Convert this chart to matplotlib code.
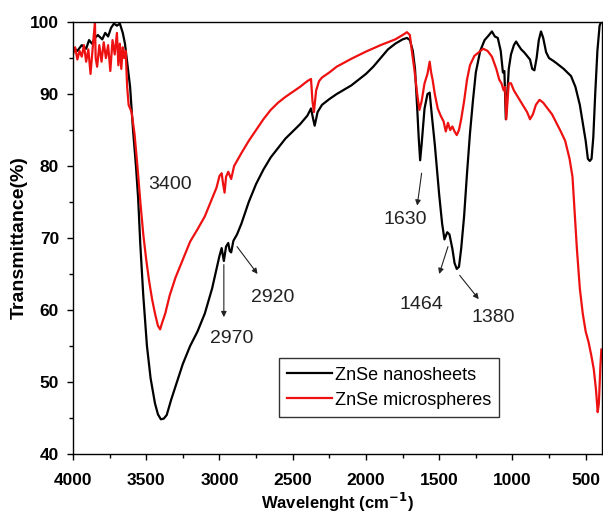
import matplotlib
matplotlib.use("Agg")
import matplotlib.pyplot as plt
from matplotlib.ticker import MultipleLocator

# ---------------- data ----------------
nano_x = [4000, 3970, 3940, 3910, 3890, 3870, 3850, 3830, 3800, 3780, 3760, 3740, 3720, 3700,
          3680, 3660, 3645, 3625, 3610, 3590, 3570, 3555, 3540, 3520, 3495, 3470, 3440, 3420,
          3400, 3380, 3360, 3330, 3290, 3250, 3200, 3150, 3100, 3050, 3000, 2985, 2970, 2955,
          2940, 2930, 2920, 2905, 2880, 2850, 2800, 2750, 2700, 2650, 2600, 2550, 2500, 2450,
          2400, 2375, 2360, 2350, 2330, 2300, 2250, 2200, 2150, 2100, 2050, 2000, 1950, 1900,
          1850, 1800, 1750, 1720, 1700, 1680, 1665, 1650, 1640, 1630, 1620, 1600, 1580, 1565,
          1550, 1530, 1500, 1480, 1464, 1445, 1430, 1410, 1395, 1380, 1365, 1350, 1330, 1310,
          1290, 1270, 1250, 1220, 1190, 1160, 1140, 1120, 1100, 1080, 1065, 1055, 1045, 1035,
          1025, 1010, 990, 975, 960, 940, 920, 900, 880, 865, 850, 835, 820, 805, 790, 770,
          750, 720, 700, 650, 600, 570, 540, 520, 500, 485, 472, 460, 448, 435, 420, 405, 395]
nano_y = [96.5, 96.0, 96.8, 96.3, 97.5, 97.0, 97.8, 98.2, 97.6, 98.5, 98.0, 99.2, 99.8, 99.5,
          99.8, 98.5, 97.0, 93.5, 91.0, 85.0, 80.0, 75.5, 69.0, 62.0, 55.0, 50.5, 47.0, 45.5,
          44.8, 44.9, 45.4, 47.5, 50.0, 52.5, 55.0, 57.0, 59.5, 63.0, 67.5, 68.6, 66.8, 68.8,
          69.3, 68.2, 68.0, 69.6, 70.5, 72.0, 75.0, 77.5, 79.5, 81.2, 82.5, 83.8, 84.8, 85.8,
          87.0, 88.0, 86.5, 85.6, 87.5, 88.5, 89.3, 90.0, 90.6, 91.2, 92.0, 92.8, 93.8, 95.0,
          96.2, 97.0, 97.6, 97.8, 97.5, 96.0, 93.5, 88.0, 84.0, 80.8, 83.0, 88.0, 90.0, 90.2,
          87.0, 83.0, 76.0, 72.0, 69.8, 70.8, 70.5, 68.5, 66.5, 65.7, 66.0, 68.5, 73.0, 79.0,
          84.5, 89.0, 93.0, 96.0, 97.5, 98.2, 98.7, 98.0, 97.8, 96.0, 93.0, 93.2, 86.5, 90.0,
          93.5, 95.5, 96.8, 97.3, 96.8, 96.2, 95.8, 95.3, 94.8, 93.5, 93.3, 95.0, 97.5, 98.7,
          97.8, 95.8, 95.0, 94.6, 94.3, 93.5, 92.5, 91.0, 88.5, 86.0, 83.5, 81.0, 80.7, 81.0,
          84.0, 90.0, 96.0, 99.5, 100.0]

micro_x = [4000, 3985, 3970, 3955, 3940, 3925, 3910, 3895, 3880, 3865, 3850, 3845, 3835, 3820,
           3805, 3790, 3775, 3760, 3745, 3730, 3715, 3700, 3690, 3680, 3670, 3660, 3650, 3640,
           3630, 3620, 3600, 3580, 3560, 3540, 3520, 3500, 3480, 3460, 3440, 3420, 3405, 3390,
           3370, 3340, 3300, 3250, 3200, 3150, 3100, 3050, 3020, 3000, 2985, 2975, 2965, 2955,
           2940, 2920, 2900, 2850, 2800, 2750, 2700, 2650, 2600, 2550, 2500, 2450, 2400, 2375,
           2365, 2355, 2340, 2320, 2300, 2250, 2200, 2100, 2000, 1900, 1800, 1750, 1720, 1700,
           1690, 1670, 1650, 1635, 1620, 1600, 1580, 1565, 1555, 1545, 1530, 1510, 1490, 1470,
           1455, 1440, 1425, 1410, 1395, 1380, 1365, 1350, 1330, 1310, 1290, 1260, 1230, 1200,
           1170, 1140, 1110, 1090, 1075, 1060, 1050, 1042, 1035, 1025, 1010, 990, 960, 930,
           900, 880, 860, 840, 815, 790, 760, 730, 700, 670, 640, 610, 590, 575, 560, 540,
           520, 500, 480, 460, 445, 430, 418, 410, 400, 393]
micro_y = [95.5, 96.5, 94.8, 96.0, 95.2, 96.8, 94.5, 96.2, 92.8, 96.5, 100.0, 95.0, 93.8, 96.8,
           94.5, 97.2, 95.0, 96.8, 93.2, 97.5, 95.5, 98.5, 94.0, 97.0, 93.5, 96.5, 95.0, 96.0,
           91.0, 88.5, 87.5, 84.5, 80.0, 75.0, 70.5, 67.0, 64.0, 61.5, 59.5, 57.8, 57.3, 58.3,
           59.5, 62.0, 64.5, 67.0, 69.5, 71.2, 73.0, 75.5, 77.0, 78.6, 79.0, 77.5, 76.3, 78.5,
           79.2, 78.2, 80.0, 81.8, 83.5, 85.0, 86.5, 87.8, 88.8, 89.6, 90.3, 91.0, 91.8, 92.1,
           89.0, 87.5, 90.5, 91.8, 92.3, 93.0, 93.8, 94.9, 95.9, 96.8, 97.6, 98.2, 98.6, 98.2,
           96.5, 93.5, 90.0, 87.8, 89.0, 91.5, 92.8, 94.5, 93.0, 92.0, 90.0, 88.0, 87.0, 86.2,
           84.8, 86.0, 85.0, 85.5, 84.8, 84.3, 85.0, 86.5, 89.0, 92.0, 94.0, 95.3, 95.8, 96.3,
           96.0, 95.2, 93.5, 92.0, 91.5, 90.5, 91.0, 86.5, 88.5, 91.5, 91.5, 90.5, 89.5, 88.5,
           87.5, 86.5, 87.2, 88.5, 89.2, 88.8, 88.0, 87.2, 86.0, 84.8, 83.5, 81.0, 78.5, 73.5,
           68.5, 63.0, 59.5, 57.0, 55.5, 53.5, 51.8, 49.0, 45.8, 47.0, 52.0, 54.5]

series_labels = ["ZnSe nanosheets", "ZnSe microspheres"]
x_ticks = [4000, 3500, 3000, 2500, 2000, 1500, 1000, 500]
y_ticks = [40, 50, 60, 70, 80, 90, 100]

# annotations: (label, arrow start (curve), arrow end, text position)
annotations = [
    ("2970", (2970, 66.3), (2970, 59.0), (2915, 56.0)),
    ("2920", (2880, 68.8), (2740, 65.0), (2640, 61.7)),
    ("1630", (1620, 79.0), (1650, 74.5), (1735, 72.5)),
    ("1464", (1440, 68.8), (1500, 65.0), (1620, 60.7)),
    ("1380", (1360, 64.8), (1230, 61.5), (1128, 58.9)),
]

# ---------------- figure ----------------
fig = plt.figure(figsize=(6.03, 5.14), dpi=100)
ax = fig.add_axes([0.121, 0.117, 0.877, 0.84])

ax.plot(nano_x, nano_y, color="black", lw=1.6, label=series_labels[0])
ax.plot(micro_x, micro_y, color="#ee1111", lw=1.6, label=series_labels[1])

ax.set_xlim(4000, 390)
ax.set_ylim(40, 100)
ax.set_xticks(x_ticks)
ax.set_yticks(y_ticks)
ax.xaxis.set_minor_locator(MultipleLocator(250))
ax.yaxis.set_minor_locator(MultipleLocator(5))
ax.tick_params(which="both", direction="out", top=False, right=False)
ax.tick_params(which="major", length=4.5, width=1)
ax.tick_params(which="minor", length=3, width=1)
ax.tick_params(axis="x", which="major", pad=9)
ax.tick_params(axis="y", which="major", pad=5.5)
for lab in ax.get_xticklabels() + ax.get_yticklabels():
    lab.set_fontfamily("Liberation Sans")
    lab.set_fontweight("bold")
    lab.set_fontsize(12.5)
for s in ax.spines.values():
    s.set_linewidth(1.0)

ax.set_xlabel("Wavelenght (cm$^{\\mathbf{-1}}$)", family="Liberation Sans",
              fontweight="bold", fontsize=12, labelpad=2.5)
ax.set_ylabel("Transmittance(%)", family="Liberation Sans",
              fontweight="bold", fontsize=14, labelpad=2)

ax.text(3338, 77.4, "3400", ha="center", va="center", fontsize=14,
        family="Liberation Sans", color="#222222")
for lbl, start, end, tpos in annotations:
    ax.annotate("", xy=end, xytext=start,
                arrowprops=dict(arrowstyle="-|>", color="#222222", lw=0.8,
                                mutation_scale=8, shrinkA=0, shrinkB=0))
    ax.text(tpos[0], tpos[1], lbl, ha="center", va="center", fontsize=14,
            family="Liberation Sans", color="#222222")

leg = ax.legend(loc="lower left", bbox_to_anchor=(0.372, 0.065), frameon=True,
                fancybox=False, edgecolor="black",
                prop={"family": "Liberation Sans", "size": 13},
                handlelength=2.5, handletextpad=0.15, borderpad=0.45,
                labelspacing=0.45)
leg.get_frame().set_linewidth(1.0)

fig.savefig("out.png", dpi=100)
